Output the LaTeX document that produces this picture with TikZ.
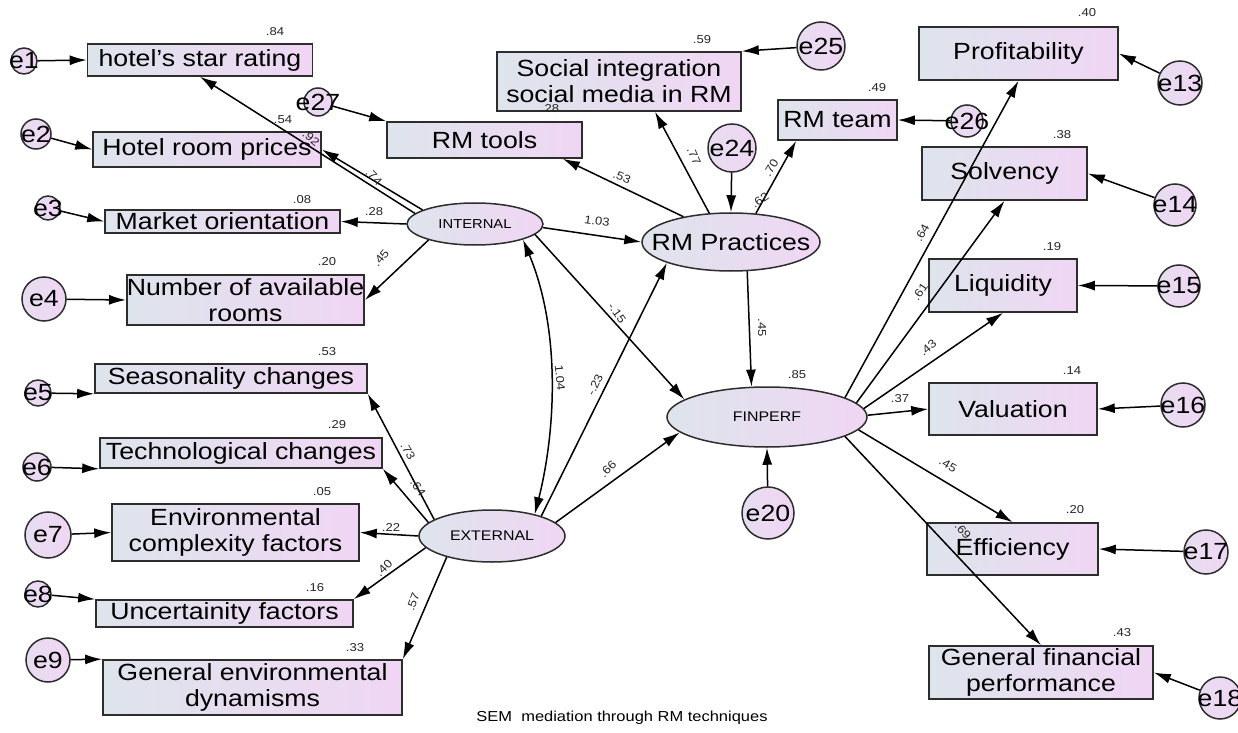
\documentclass[tikz,border=0pt]{standalone}
\usepackage{fontspec}
\setmainfont{Liberation Sans}[FakeStretch=1.14]
\usetikzlibrary{arrows.meta,calc,shapes.geometric}
\definecolor{shadeL}{RGB}{222,228,236}
\definecolor{shadeR}{RGB}{240,214,244}
\definecolor{edge}{RGB}{45,45,45}
\begin{document}
\begin{tikzpicture}[x=1bp,y=-1bp,
  obs/.style={draw=edge,line width=1.6bp,left color=shadeL,right color=shadeR,
    inner sep=0pt,align=center,font=\fontsize{23.5}{26}\selectfont},
  lat/.style={ellipse,draw=edge,line width=1.5bp,left color=shadeL,right color=shadeR,inner sep=0pt},
  err/.style={circle,draw=edge,line width=1.5bp,left color=shadeL!50!shadeR,right color=shadeR,
    inner sep=0pt,minimum size=#1},
  etxt/.style={font=\fontsize{23.5}{24}\selectfont,inner sep=0pt},
  tip/.tip={Latex[length=17bp,width=10bp]},
  arr/.style={draw=black,line width=1.5bp,-tip},
  dbl/.style={draw=black,line width=1.5bp,tip-tip},
  coef/.style={font=\fontsize{11.5}{12}\selectfont,inner sep=0pt,text=black!85}
]
\useasboundingbox (0,0) rectangle (1238,733);
\fill[white] (0,0) rectangle (1238,733);
\clip (0,0) rectangle (1238,733);

% observed indicators
\node[obs,minimum width=225bp,minimum height=32bp] (hsr) at (200,60) {hotel's star rating};
\node[obs,minimum width=228bp,minimum height=35bp] (hrp) at (207,149.5) {Hotel room prices};
\node[obs,minimum width=235bp,minimum height=23bp] (mo) at (222.5,221.5) {Market orientation};
\node[obs,minimum width=237bp,minimum height=50bp] (nar) at (245.5,300) {Number of available\\rooms};
\node[obs,minimum width=272bp,minimum height=29bp] (sc) at (231,378.5) {Seasonality changes};
\node[obs,minimum width=282bp,minimum height=30bp] (tc) at (241,453) {Technological changes};
\node[obs,minimum width=247bp,minimum height=57bp] (ecf) at (235.5,532.5) {Environmental\\complexity factors};
\node[obs,minimum width=257bp,minimum height=27bp] (uf) at (224.5,613.5) {Uncertainity factors};
\node[obs,minimum width=299bp,minimum height=55bp] (ged) at (252.5,687.5) {General environmental\\dynamisms};
\node[obs,minimum width=195bp,minimum height=36bp] (rmt) at (484.5,140) {RM tools};
\node[obs,minimum width=244bp,minimum height=59bp] (sim) at (619,81.5) {Social integration\\social media in RM};
\node[obs,minimum width=119bp,minimum height=40bp] (team) at (837.5,120) {RM team};
\node[obs,minimum width=199bp,minimum height=53bp] (prof) at (1018.5,53.5) {Profitability};
\node[obs,minimum width=165bp,minimum height=53bp] (solv) at (1004.5,173.5) {Solvency};
\node[obs,minimum width=148bp,minimum height=53bp] (liq) at (1003,285.5) {Liquidity};
\node[obs,minimum width=168bp,minimum height=52bp] (val) at (1013,409) {Valuation};
\node[obs,minimum width=171bp,minimum height=52bp] (eff) at (1012.5,549) {Efficiency};
\node[obs,minimum width=224bp,minimum height=53bp] (gfp) at (1041,672.5) {General financial\\performance};

% latent variables
\node[lat,minimum width=136bp,minimum height=42bp,label={[font=\fontsize{13}{13}\selectfont]center:INTERNAL}] (int) at (475,224) {};
\node[lat,minimum width=178bp,minimum height=58bp,label={[font=\fontsize{23.5}{24}\selectfont]center:RM Practices}] (rmp) at (731,242) {};
\node[lat,minimum width=200bp,minimum height=60bp,label={[font=\fontsize{14}{14}\selectfont]center:FINPERF}] (fin) at (767,417) {};
\node[lat,minimum width=146bp,minimum height=52bp,label={[font=\fontsize{14}{14}\selectfont]center:EXTERNAL}] (ext) at (492,536) {};

% error terms
\node[err=26bp,label={[etxt]center:e1}] (e1) at (24,61) {};
\node[err=30bp,label={[etxt]center:e2}] (e2) at (36,134) {};
\node[err=24bp,label={[etxt]center:e3}] (e3) at (48,208) {};
\node[err=44bp,label={[etxt]center:e4}] (e4) at (44,299) {};
\node[err=26bp,label={[etxt]center:e5}] (e5) at (38,393) {};
\node[err=28bp,label={[etxt]center:e6}] (e6) at (37,467) {};
\node[err=46bp,label={[etxt]center:e7}] (e7) at (48,535) {};
\node[err=26bp,label={[etxt]center:e8}] (e8) at (38,594) {};
\node[err=44bp,label={[etxt]center:e9}] (e9) at (48,660) {};
\node[err=28bp,label={[etxt]center:e27}] (e27) at (318,102) {};
\node[err=48bp,label={[etxt]center:e25}] (e25) at (821,46) {};
\node[err=48bp,label={[etxt]center:e24}] (e24) at (732,148) {};
\node[err=32bp,label={[etxt]center:e26}] (e26) at (967,121) {};
\node[err=44bp,label={[etxt]center:e13}] (e13) at (1180,83) {};
\node[err=42bp,label={[etxt]center:e14}] (e14) at (1175,205) {};
\node[err=42bp,label={[etxt]center:e15}] (e15) at (1179,286) {};
\node[err=44bp,label={[etxt]center:e16}] (e16) at (1183,405) {};
\node[err=44bp,label={[etxt]center:e17}] (e17) at (1206,552) {};
\node[err=42bp,label={[etxt]center:e18}] (e18) at (1220,698) {};
\node[err=52bp,label={[etxt]center:e20}] (e20) at (768,513) {};

% error paths
\draw[arr] (e1) -- (hsr.west);
\draw[arr] (e2) -- (hrp.west);
\draw[arr] (e3) -- (mo.west);
\draw[arr] (e4) -- (nar.west);
\draw[arr] (e5) -- (sc.south west);
\draw[arr] (e6) -- (tc.south west);
\draw[arr] (e7) -- (ecf.west);
\draw[arr] (e8) -- (uf.north west);
\draw[arr] (e9) -- (ged.north west);
\draw[arr] (e27) -- (rmt.north west);
\draw[arr] (e25) -- (sim.north east);
\draw[arr] (e24) -- (rmp.north);
\draw[arr] (e26) -- (team.east);
\draw[arr] (e13) -- (prof.east);
\draw[arr] (e14) -- (solv.east);
\draw[arr] (e15) -- (liq.east);
\draw[arr] (e16) -- (val.east);
\draw[arr] (e17) -- (eff.east);
\draw[arr] (e18) -- (gfp.east);
\draw[arr] (e20) -- (fin.south);

% measurement paths
\draw[arr] (int.170) -- (hsr.south);
\draw[arr] (int.165) -- (hrp.east);
\draw[arr] (int.west) -- (mo.east);
\draw[arr] (int.199) -- (nar.east);
\draw[arr] (ext.164) -- (sc.south east);
\draw[arr] (ext.168) -- (tc.south east);
\draw[arr] (ext.west) -- (ecf.east);
\draw[arr] (ext.190) -- (uf.north east);
\draw[arr] (ext.205) -- (ged.north east);
\draw[arr] (rmp.152) -- ($(rmt.south east)+(-20,0)$);
\draw[arr] (rmp.127) -- ($(sim.south)+(36,0)$);
\draw[arr] (rmp.49) -- ($(team.south west)+(19,0)$);
\draw[arr] (fin.14) -- (prof.south);
\draw[arr] (fin.9) -- (solv.south);
\draw[arr] (fin.5) -- (liq.south);
\draw[arr] (fin.1) -- (val.west);
\draw[arr] (fin.-8) -- (eff.north);
\draw[arr] (fin.-14) -- (gfp.north);

% structural paths
\draw[arr] (int.-3) -- (rmp.west);
\draw[arr] (int.-10) -- (fin.168);
\draw[arr] (ext.22) -- (rmp.198);
\draw[arr] (ext.12) -- (fin.190);
\draw[arr] (rmp.-61) -- (fin.117);
\draw[dbl] (int.-18) .. controls +(38,91) and +(21,-83) .. (ext.27);

% squared multiple correlations
\node[coef] (r-hsr) at (275,32) {.84};
\node[coef] (r-hrp) at (283,120) {.54};
\node[coef] (r-mo) at (302,200) {.08};
\node[coef] (r-nar) at (327,262) {.20};
\node[coef] (r-sc) at (327,352) {.53};
\node[coef] (r-tc) at (337,425) {.29};
\node[coef] (r-ecf) at (322,492) {.05};
\node[coef] (r-uf) at (315,588) {.16};
\node[coef] (r-ged) at (355,648) {.33};
\node[coef] (r-rmt) at (550,109) {.28};
\node[coef] (r-sim) at (702,40) {.59};
\node[coef] (r-team) at (877,88) {.49};
\node[coef,rotate=35] (r-rmp) at (760,200) {.62};
\node[coef] (r-fin) at (797,375) {.85};
\node[coef] (r-prof) at (1087,13) {.40};
\node[coef] (r-solv) at (1062,135) {.38};
\node[coef] (r-liq) at (1052,247) {.19};
\node[coef] (r-val) at (1072,371) {.14};
\node[coef] (r-eff) at (1075,510) {.20};
\node[coef] (r-gfp) at (1122,633) {.43};

% path coefficients
\node[coef,rotate=-40] (w-hsr) at (311,138) {.92};
\node[coef,rotate=-45] (w-hrp) at (374,177) {.74};
\node[coef] (w-mo) at (374,212) {.28};
\node[coef,rotate=50] (w-nar) at (381,258) {.45};
\node[coef,rotate=-60] (w-sc) at (408,451) {.73};
\node[coef,rotate=-55] (w-tc) at (418,488) {.64};
\node[coef] (w-ecf) at (391,527) {.22};
\node[coef,rotate=45] (w-uf) at (384,568) {.40};
\node[coef,rotate=70] (w-ged) at (413,602) {.57};
\node[coef,rotate=-8] (w-irm) at (597,221) {1.03};
\node[coef,rotate=-22] (w-rmt) at (622,177) {.53};
\node[coef,rotate=-65] (w-sim) at (694,156) {.77};
\node[coef,rotate=60] (w-team) at (771,168) {.70};
\node[coef,rotate=-55] (w-ifin) at (617,313) {-.15};
\node[coef,rotate=-85] (w-cov) at (560,378) {1.04};
\node[coef,rotate=65] (w-erm) at (595,385) {-.23};
\node[coef,rotate=45] (w-efin) at (608,469) {.66};
\node[coef,rotate=-90] (w-rmfin) at (762,328) {.45};
\node[coef,rotate=62] (w-prof) at (922,233) {.64};
\node[coef,rotate=55] (w-solv) at (920,292) {.61};
\node[coef,rotate=40] (w-liq) at (928,348) {.43};
\node[coef] (w-val) at (900,399) {.37};
\node[coef,rotate=-30] (w-eff) at (948,465) {.45};
\node[coef,rotate=-50] (w-gfp) at (963,531) {.69};

% caption
\node[font=\fontsize{14.5}{15}\selectfont,inner sep=0pt] (cap) at (622,718) {SEM\ \ mediation through RM techniques};
\end{tikzpicture}
\end{document}
